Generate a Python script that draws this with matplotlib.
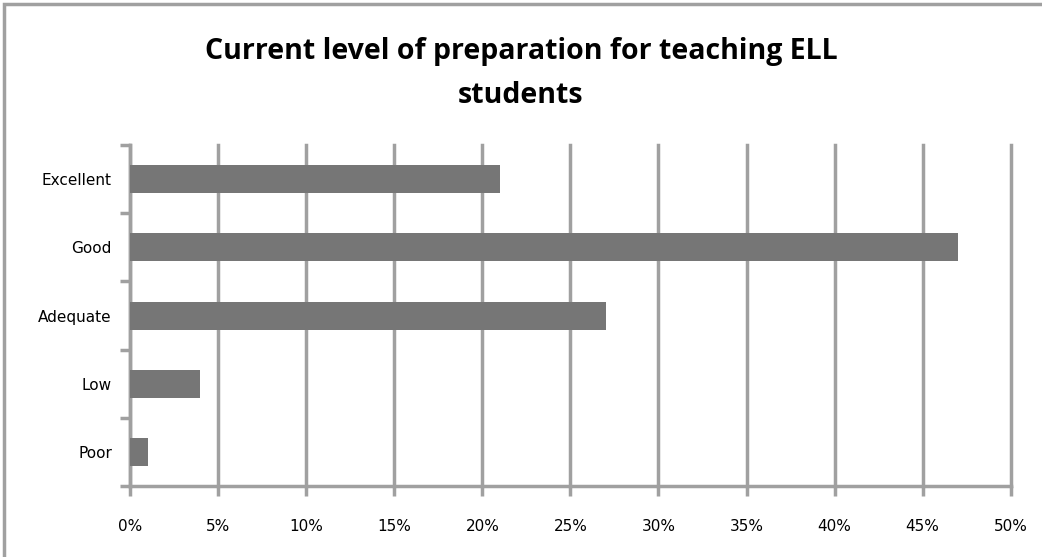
import matplotlib.pyplot as plt
import matplotlib.patches as mpatches
import numpy as np

# data
categories = ["Excellent", "Good", "Adequate", "Low", "Poor"]
values = [21, 47, 27, 4, 1]
xticks = [0, 5, 10, 15, 20, 25, 30, 35, 40, 45, 50]

grid_col = "#a0a0a0"
bar_col = "#767676"

fig = plt.figure(figsize=(10.42, 5.57), dpi=100)
ax = fig.add_axes([0.1248, 0.1275, 0.8452, 0.612])

# outer chart border (right and bottom edges fall outside the picture)
fig.patches.append(mpatches.Rectangle((0.004, -0.05), 1.02, 1.043, transform=fig.transFigure,
                                      fill=False, edgecolor=grid_col, linewidth=2.5))

y = np.arange(len(categories))[::-1]
ax.barh(y, values, height=0.41, color=bar_col, zorder=3)

ax.set_xlim(0, 50)
ax.set_ylim(-0.5, len(categories) - 0.5)
ax.set_xticks(xticks)
ax.set_xticklabels([f"{v}%" for v in xticks], fontsize=11, family="DejaVu Sans")
ax.set_yticks(y)
ax.set_yticklabels(categories, fontsize=11, family="DejaVu Sans")
ax.set_yticks(np.arange(-0.5, len(categories), 1), minor=True)

ax.grid(axis="x", color=grid_col, linewidth=2.5, zorder=0)
for gl in ax.get_xgridlines():
    gl.set_clip_on(False)
ax.tick_params(axis="y", which="major", length=0, pad=13)
ax.tick_params(axis="y", which="minor", length=7, width=2.5, color=grid_col)
ax.tick_params(axis="x", length=7, width=2.5, color=grid_col, pad=17)

for s in ["top", "right"]:
    ax.spines[s].set_visible(False)
for s in ["left", "bottom"]:
    ax.spines[s].set_color(grid_col)
    ax.spines[s].set_linewidth(2.5)

fig.text(0.5, 0.868, "Current level of preparation for teaching ELL\nstudents",
         ha="center", va="center", fontsize=20.5, fontweight="bold",
         family="Open Sans", linespacing=1.65)

fig.savefig("out.png", dpi=100)
